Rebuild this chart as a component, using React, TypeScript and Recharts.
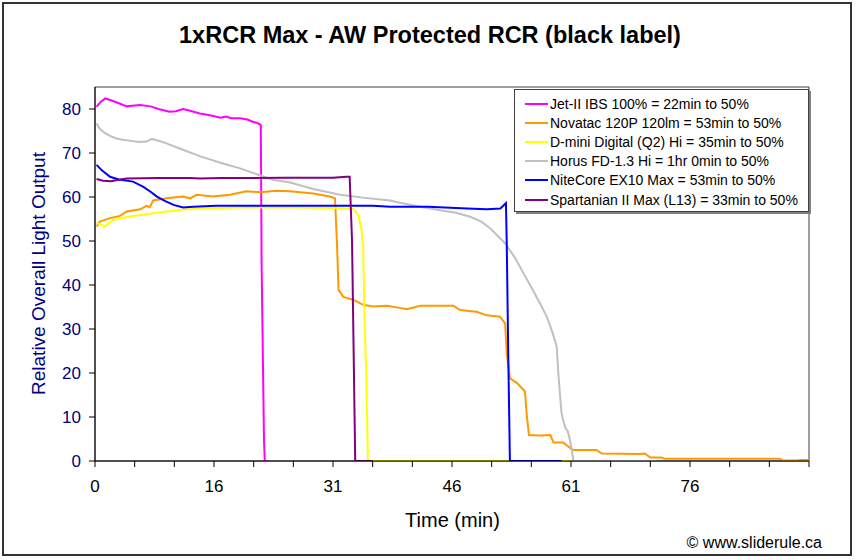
import React from 'react';
import { LineChart, Line, XAxis, YAxis, ReferenceArea } from 'recharts';

const FONT = '"Liberation Sans", Arial, sans-serif';

// x positions are in chart minutes (axis spans 0..90); labels as printed on the original axis
const xTickPositions = [0, 5, 10, 15, 20, 25, 30, 35, 40, 45, 50, 55, 60, 65, 70, 75, 80, 85, 90];
const xTickLabels = ['0', '16', '31', '46', '61', '76'];
const yTicks = [0, 10, 20, 30, 40, 50, 60, 70, 80];

const jetTime = [0.2, 0.7, 1.3, 2.0, 3.0, 4.0, 5.0, 5.7, 7.0, 8.0, 9.4, 10.2, 11.1, 12.0, 13.2, 14.5, 15.8, 16.5, 17.2, 18.3, 19.2, 19.9, 20.5, 20.9, 21.0, 21.3, 21.4, 21.8];
const jetValues = [80.5, 81.6, 82.4, 82.0, 81.3, 80.6, 80.8, 80.9, 80.6, 80.0, 79.4, 79.5, 80.0, 79.6, 79.0, 78.6, 78.0, 78.3, 77.9, 77.9, 77.6, 77.1, 76.8, 76.4, 45.0, 5.0, 0, 0];

const novaTime = [0.2, 0.6, 1.9, 3.15, 4.0, 5.0, 5.7, 6.5, 6.9, 7.35, 9.0, 11.1, 12.0, 12.8, 14.9, 17.0, 19.1, 20.8, 22.9, 24.6, 27.5, 29.6, 30.25, 30.5, 30.7, 31.3, 32.6, 33.8, 35.1, 36.8, 38.4, 39.3, 41.0, 42.6, 45.2, 46.0, 48.1, 49.4, 51.05, 51.7, 51.9, 52.3, 53.2, 54.2, 54.4, 54.7, 56.1, 57.4, 57.8, 59.0, 60.1, 60.3, 63.2, 63.9, 68.7, 69.3, 70.0, 71.4, 71.8, 86.3, 86.7, 88.5, 88.9, 90.0];
const novaValues = [53.3, 54.4, 55.2, 55.7, 56.7, 57.0, 57.2, 58.0, 57.7, 59.2, 59.7, 60.1, 59.7, 60.5, 60.1, 60.5, 61.3, 61.1, 61.4, 61.3, 60.8, 60.1, 59.7, 49.5, 38.9, 37.3, 36.6, 35.5, 35.1, 35.3, 34.8, 34.5, 35.3, 35.3, 35.3, 34.3, 33.9, 33.1, 32.8, 31.3, 24.5, 18.8, 17.7, 15.8, 10.8, 5.9, 5.8, 5.9, 4.2, 4.2, 2.7, 2.5, 2.5, 1.7, 1.6, 1.7, 0.8, 0.8, 0.5, 0.5, 0.1, 0.1, 0.2, 0.2];

const dminiTime = [0.2, 0.6, 1.26, 1.8, 2.3, 3.5, 4.8, 7.0, 9.0, 11.0, 13.2, 18.3, 24.6, 30.0, 32.6, 33.2, 33.6, 33.8, 34.0, 34.2, 34.4, 60.1];
const dminiValues = [54.2, 53.8, 53.3, 54.2, 54.8, 55.3, 55.7, 56.2, 56.7, 57.1, 57.4, 57.6, 57.6, 57.5, 57.3, 55.9, 52.5, 48.7, 30.5, 19.2, 0, 0];

const horusTime = [0.2, 0.6, 1.26, 2.0, 2.7, 3.5, 4.8, 5.5, 6.5, 7.15, 8.0, 9.0, 11.0, 13.2, 15.8, 18.3, 20.5, 22.4, 24.6, 27.5, 30.9, 34.0, 37.2, 38.4, 41.0, 43.5, 45.5, 47.3, 48.7, 49.8, 51.7, 53.0, 54.0, 55.0, 56.1, 57.0, 57.7, 58.2, 58.4, 58.6, 58.8, 59.0, 59.3, 59.6, 59.9, 60.1, 60.3, 70.8];
const horusValues = [76.7, 75.5, 74.5, 73.8, 73.3, 73.0, 72.7, 72.5, 72.6, 73.2, 72.8, 72.2, 70.8, 69.3, 67.8, 66.5, 65.1, 63.9, 63.3, 61.8, 60.5, 59.8, 59.2, 58.7, 57.8, 57.0, 56.4, 55.5, 54.4, 52.9, 49.5, 46.0, 42.7, 39.5, 35.8, 32.6, 29.0, 26.0, 20.0, 15.4, 11.0, 9.3, 7.5, 6.7, 4.5, 2.5, 0, 0];

const niteTime = [0.2, 0.9, 1.9, 3.0, 4.8, 6.1, 7.0, 7.8, 8.8, 9.9, 11.1, 12.4, 15.3, 20.0, 25.0, 30.0, 35.0, 37.2, 42.0, 46.9, 49.4, 51.1, 51.8, 51.9, 52.1, 52.3, 58.8];
const niteValues = [67.3, 66.0, 64.6, 64.0, 63.5, 62.3, 61.2, 60.1, 59.1, 58.2, 57.6, 57.8, 58.0, 58.0, 58.0, 58.0, 58.0, 57.8, 57.8, 57.4, 57.2, 57.4, 58.6, 49.5, 23.0, 0, 0];

const spartTime = [0.2, 1.0, 2.0, 3.0, 4.0, 8.0, 12.0, 13.2, 16.0, 20.0, 24.0, 28.0, 30.0, 31.7, 32.1, 32.4, 32.8, 35.0];
const spartValues = [64.1, 63.7, 63.6, 63.9, 64.2, 64.3, 64.3, 64.2, 64.3, 64.3, 64.4, 64.4, 64.4, 64.6, 64.6, 50.0, 0, 0];

const seriesNames = [
  'Jet-II IBS 100% = 22min to 50%',
  'Novatac 120P 120lm = 53min to 50%',
  'D-mini Digital (Q2) Hi = 35min to 50%',
  'Horus FD-1.3 Hi = 1hr 0min to 50%',
  'NiteCore EX10 Max = 53min to 50%',
  'Spartanian II Max (L13) = 33min to 50%',
];
const seriesColors = ['#FF00FF', '#FF9900', '#FFFF00', '#C0C0C0', '#0000FF', '#800080'];

const build = (t: number[], v: number[]) => t.map((x, i) => ({ t: x, v: v[i] }));
const seriesData = [
  build(jetTime, jetValues),
  build(novaTime, novaValues),
  build(dminiTime, dminiValues),
  build(horusTime, horusValues),
  build(niteTime, niteValues),
  build(spartTime, spartValues),
];

const xFormat = (v: number) => {
  if (v % 15 !== 0) return '';
  const i = v / 15;
  return i < xTickLabels.length ? xTickLabels[i] : '';
};

export default function App() {
  return (
    <div style={{ position: 'absolute', left: 0, top: 0, width: 855, height: 560, background: '#fff', fontFamily: FONT }}>
      <LineChart width={855} height={560} margin={{ top: 87, right: 46, bottom: 59, left: 35 }}>
        <XAxis
          dataKey="t"
          type="number"
          domain={[0, 90]}
          ticks={xTickPositions}
          tickFormatter={xFormat}
          interval={0}
          allowDataOverflow
          height={40}
          tickSize={6}
          tickMargin={13}
          stroke="#000"
          tick={{ fill: '#000', fontSize: 17, fontFamily: FONT }}
        />
        <YAxis
          type="number"
          domain={[0, 85]}
          ticks={yTicks}
          interval={0}
          allowDataOverflow
          width={60}
          tickSize={6}
          tickMargin={8}
          stroke="#000"
          tick={{ fill: '#000080', fontSize: 17, fontFamily: FONT }}
        />
        <ReferenceArea x1={0} x2={90} y1={0} y2={85} fill="none" stroke="#404040" strokeWidth={1} ifOverflow="visible" />
        {seriesData.map((d, i) => (
          <Line
            key={seriesNames[i]}
            data={d}
            dataKey="v"
            name={seriesNames[i]}
            type="linear"
            stroke={seriesColors[i]}
            strokeWidth={2}
            dot={false}
            activeDot={false}
            isAnimationActive={false}
          />
        ))}
      </LineChart>
      <svg width={855} height={560} style={{ position: 'absolute', left: 0, top: 0, pointerEvents: 'none' }}>
        <rect x={3} y={3} width={848} height={552} fill="none" stroke="#333" strokeWidth={2} />
        <text x={430} y={42.5} textAnchor="middle" fontFamily={FONT} fontWeight="bold" fontSize={23.5} fill="#000">
          1xRCR Max - AW Protected RCR (black label)
        </text>
        <text x={45} y={273.5} transform="rotate(-90 45 273.5)" textAnchor="middle" fontFamily={FONT} fontSize={19} fill="#000080">
          Relative Overall Light Output
        </text>
        <text x={452.5} y={527} textAnchor="middle" fontFamily={FONT} fontSize={20} fill="#000">
          Time (min)
        </text>
        <text x={822} y={548} textAnchor="end" fontFamily={FONT} fontSize={16} fill="#000">
          © www.sliderule.ca
        </text>
      </svg>
      <div
        style={{
          position: 'absolute',
          left: 514,
          top: 89,
          width: 293,
          height: 117,
          background: '#fff',
          border: '1px solid #404040',
          boxShadow: '2px 2px 0 #808080',
          paddingTop: 4,
          boxSizing: 'content-box',
        }}
      >
        {seriesNames.map((n, i) => (
          <div key={n} style={{ display: 'flex', alignItems: 'center', height: 19.2, fontSize: 14, fontFamily: FONT, color: '#000', whiteSpace: 'nowrap' }}>
            <span style={{ display: 'inline-block', marginLeft: 10, width: 23, height: 2, background: seriesColors[i] }} />
            <span style={{ marginLeft: 2 }}>{n}</span>
          </div>
        ))}
      </div>
    </div>
  );
}
